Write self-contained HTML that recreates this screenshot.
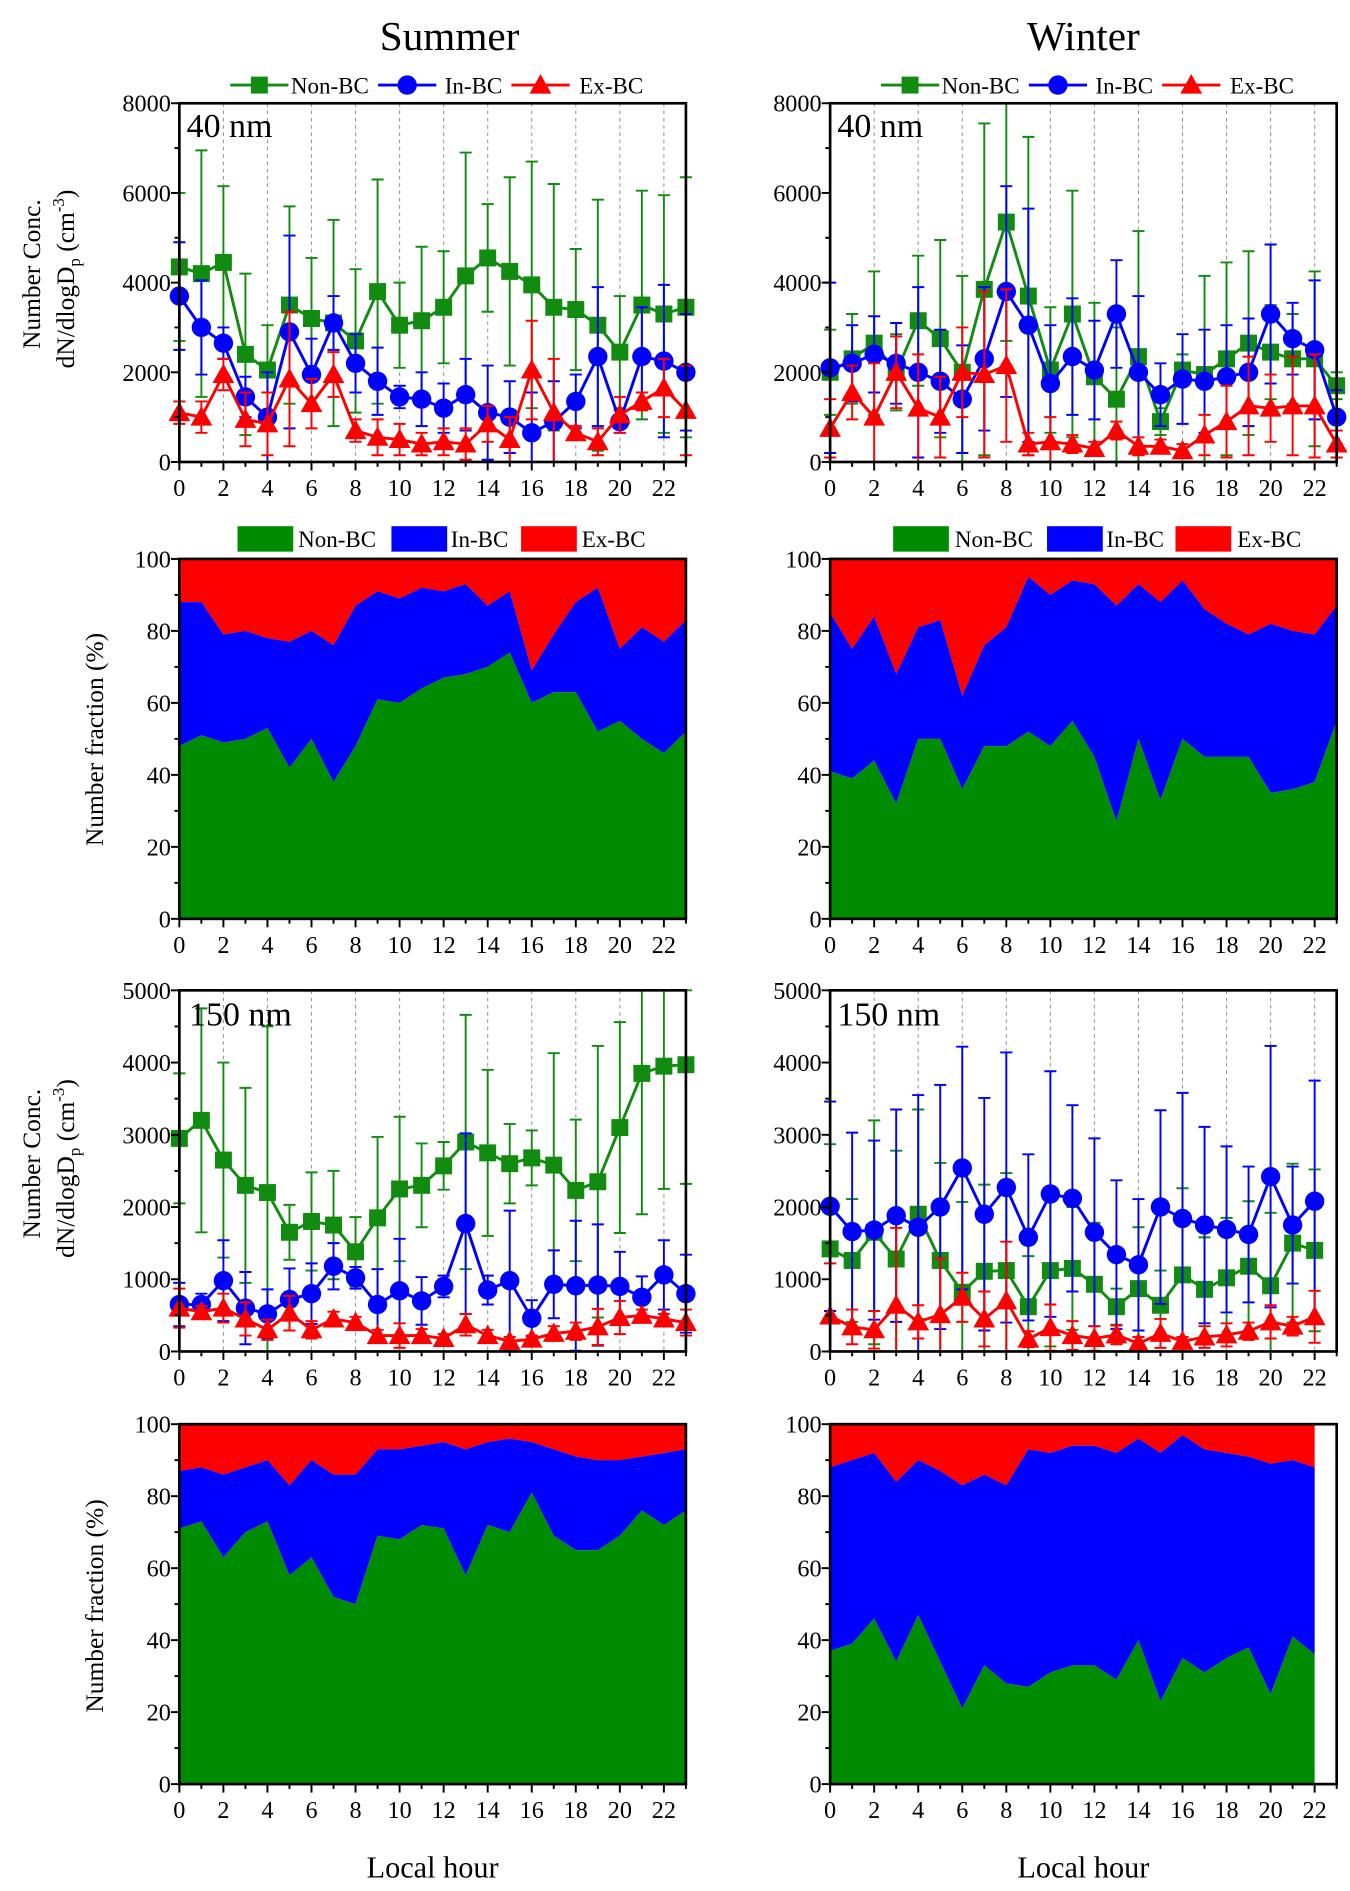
<!DOCTYPE html>
<html><head><meta charset="utf-8">
<style>
html,body{margin:0;padding:0;background:#fff;}
svg{display:block;}
svg text{font-family:"Liberation Serif","Times New Roman",serif;}
</style></head>
<body>
<svg id="fig" width="1350" height="1891" viewBox="0 0 1114 1560" xmlns="http://www.w3.org/2000/svg" font-family="Liberation Serif, serif">
<text x="371" y="41" font-size="34" text-anchor="middle">Summer</text>
<text x="894" y="41" font-size="34" text-anchor="middle">Winter</text>
<g>
<text transform="translate(33,226) rotate(-90)" font-size="21" text-anchor="middle">Number Conc.</text>
<text transform="translate(61,230) rotate(-90)" font-size="21" text-anchor="middle">dN/dlogD<tspan font-size="14" dy="5">p</tspan><tspan dy="-5"> (cm</tspan><tspan font-size="14" dy="-8">-3</tspan><tspan dy="8">)</tspan></text>
</g>
<g>
<text transform="translate(33,960) rotate(-90)" font-size="21" text-anchor="middle">Number Conc.</text>
<text transform="translate(61,964) rotate(-90)" font-size="21" text-anchor="middle">dN/dlogD<tspan font-size="14" dy="5">p</tspan><tspan dy="-5"> (cm</tspan><tspan font-size="14" dy="-8">-3</tspan><tspan dy="8">)</tspan></text>
</g>
<text transform="translate(85,610) rotate(-90)" font-size="21" text-anchor="middle">Number fraction (%)</text>
<text transform="translate(85,1325) rotate(-90)" font-size="21" text-anchor="middle">Number fraction (%)</text>
<text x="357" y="1549" font-size="25" text-anchor="middle">Local hour</text>
<text x="894" y="1549" font-size="25" text-anchor="middle">Local hour</text>
</svg>
<script>
// ---- data ----
const hours = [0,1,2,3,4,5,6,7,8,9,10,11,12,13,14,15,16,17,18,19,20,21,22,23];
const seriesNames = ["Non-BC","In-BC","Ex-BC"];
const conc40YTicks = [0,2000,4000,6000,8000];
const conc150YTicks = [0,1000,2000,3000,4000,5000];
const fracYTicks = [0,20,40,60,80,100];
const xTickLabels = [0,2,4,6,8,10,12,14,16,18,20,22];

const sum40Non = [4350,4200,4450,2400,2050,3500,3200,3100,2700,3800,3050,3150,3450,4150,4550,4250,3950,3450,3400,3050,2450,3500,3300,3450];
const sum40NonErr = [1650,2750,1700,1800,1000,2200,1350,2300,1600,2500,950,1650,1250,2750,1200,2100,2750,2750,1350,2800,1250,2550,2650,2900];
const sum40In = [3700,3000,2650,1450,1000,2900,1950,3100,2200,1800,1450,1400,1200,1500,1100,1000,650,900,1350,2350,900,2350,2250,2000];
const sum40InErr = [1200,1050,350,450,1000,2150,800,600,650,750,250,600,550,800,1050,800,900,900,600,1550,250,1100,1700,1300];
const sum40Ex = [1100,1000,1950,950,850,1850,1300,1950,700,550,500,400,450,400,850,500,2050,1100,650,450,1050,1350,1650,1150];
const sum40ExErr = [250,350,350,600,700,1500,550,500,250,400,350,250,300,350,400,500,1100,1200,150,300,400,200,650,1000];

const win40Non = [2000,2300,2650,2000,3150,2750,2000,3850,5350,3700,2050,3300,1900,1400,2350,900,2050,1950,2300,2650,2450,2300,2300,1700];
const win40NonErr = [950,1000,1600,850,1450,2200,2150,3700,2650,3550,1400,2750,1650,1600,2800,300,350,2200,2150,2050,1050,1000,1950,300];
const win40In = [2100,2200,2400,2200,2000,1800,1400,2300,3800,3050,1750,2350,2050,3300,2000,1500,1850,1800,1900,2000,3300,2750,2500,1000];
const win40InErr = [1900,850,850,900,1900,1150,1200,1600,2350,2600,1300,1300,1100,1200,1700,700,1000,1150,1150,1200,1550,800,1550,600];
const win40Ex = [750,1550,1000,2000,1200,1000,2000,1950,2150,400,450,400,300,700,350,350,250,600,900,1250,1200,1250,1250,400];
const win40ExErr = [650,600,1200,800,1200,900,1000,1850,1700,250,550,200,150,200,200,150,150,450,800,1100,750,1100,1150,300];

const sumFrac40Non = [48,51,49,50,53,42,50,38,48,61,60,64,67,68,70,74,60,63,63,52,55,50,46,52];
const sumFrac40In = [40,37,30,30,25,35,30,38,39,30,29,28,24,25,17,17,9,16,25,40,20,31,31,31];
const winFrac40Non = [41,39,44,32,50,50,36,48,48,52,48,55,45,27,50,33,50,45,45,45,35,36,38,55];
const winFrac40In = [44,36,40,36,31,33,26,28,33,43,42,39,48,60,43,55,44,41,37,34,47,44,41,32];

const sum150Non = [2950,3200,2650,2300,2200,1650,1800,1750,1380,1850,2250,2300,2570,2900,2750,2600,2680,2580,2230,2350,3100,3850,3950,3970];
const sum150NonErr = [900,1550,1350,1350,2300,380,680,750,480,1120,1000,580,330,1760,1150,550,380,1550,980,1880,1460,1950,1700,1650];
const sum150In = [650,650,980,600,520,720,800,1180,1020,650,840,700,900,1770,850,980,460,930,910,920,900,750,1060,800];
const sum150InErr = [300,150,560,500,340,430,420,320,150,490,720,330,150,1250,200,970,250,470,900,840,480,290,480,540];
const sum150Ex = [600,550,600,450,300,530,300,450,400,220,220,220,180,370,220,140,170,250,280,340,470,500,450,400];
const sum150ExErr = [270,80,200,230,140,240,120,100,80,80,170,90,60,150,80,60,50,100,120,250,230,80,70,180];

const win150Non = [1420,1260,1650,1280,1900,1260,820,1110,1120,620,1120,1150,930,620,870,640,1060,860,1020,1180,910,1500,1400];
const win150NonErr = [1450,850,1550,1500,1450,1350,1250,1200,1350,700,1050,850,850,250,850,480,1200,720,830,900,1010,1100,1120];
const win150In = [2010,1660,1680,1880,1720,2000,2540,1900,2270,1580,2180,2120,1650,1340,1200,2000,1840,1750,1690,1620,2420,1750,2080];
const win150InErr = [1450,1370,1240,1470,1830,1690,1680,1610,1870,1150,1700,1290,1300,1030,910,1340,1740,1360,1150,940,1810,810,1670];
const win150Ex = [490,340,300,640,410,510,750,450,700,170,330,220,180,230,110,250,140,200,230,280,410,350,480];
const win150ExErr = [730,240,260,1070,230,780,340,380,820,110,320,200,170,130,90,200,60,150,160,120,230,130,360];

const sumFrac150Non = [71,73,63,70,73,58,63,52,50,69,68,72,71,58,72,70,81,69,65,65,69,76,72,76];
const sumFrac150In = [16,15,23,18,17,25,27,34,36,24,25,22,24,35,23,26,14,24,26,25,21,15,20,17];
const winFrac150Non = [37,39,46,34,47,34,21,33,28,27,31,33,33,29,40,23,35,31,35,38,25,41,36];
const winFrac150In = [51,51,46,50,43,53,62,53,55,66,61,61,61,63,56,69,62,62,57,53,64,49,52];

// ---- drawing ----
const NS = "http://www.w3.org/2000/svg";
const svg = document.getElementById("fig");
const GREEN = "#118c11", BLUE = "#0000ff", RED = "#ff0000", GFILL = "#008c00";
function mk(tag, attrs, parent){ const e=document.createElementNS(NS,tag); for(const k in attrs) e.setAttribute(k,attrs[k]); (parent||svg).appendChild(e); return e; }

function makeAxes(x0, y0, x1, y1, ymax, ticks, minorStep, grid, name){
  const g = mk("g",{});
  
  
  const xs = h => x0 + (x1 - x0) * h / 23;
  const ys = v => y1 - (y1 - y0) * v / ymax;
  if(grid){ for(let h=2; h<=22; h+=2) mk("line",{x1:xs(h),x2:xs(h),y1:y0,y2:y1,stroke:"#999","stroke-width":0.9,"stroke-dasharray":"3,3"},g); }
  return {g, xs, ys, x0, y0, x1, y1, ymax, ticks, minorStep};
}
function finishAxes(ax, name){
  const {g,xs,ys,x0,y0,x1,y1,ymax,ticks,minorStep} = ax;
  const fr = mk("rect",{x:x0,y:y0,width:x1-x0,height:y1-y0,fill:"none",stroke:"#000","stroke-width":2.2},g);
  
  
  for(let h=0; h<=23; h++){
    const major = h%2===0;
    mk("line",{x1:xs(h),x2:xs(h),y1:y1,y2:y1+(major?7:4),stroke:"#000","stroke-width":1.6},g);
  }
  for(const h of xTickLabels){
    const t = mk("text",{x:xs(h),y:y1+28,"font-size":20,"text-anchor":"middle"},g);
    t.textContent = h;
    
    
  }
  for(let v=0; v<=ymax+1e-6; v+=minorStep){
    const major = ticks.some(t=>Math.abs(t-v)<1e-6);
    mk("line",{x1:x0,x2:x0-(major?7:4),y1:ys(v),y2:ys(v),stroke:"#000","stroke-width":1.6},g);
  }
  for(const v of ticks){
    const t = mk("text",{x:x0-7,y:ys(v)+7,"font-size":20,"text-anchor":"end"},g);
    t.textContent = v;
    
    
  }
}
function marker(g, kind, x, y, color){
  if(kind==="sq") return mk("rect",{x:x-7,y:y-7,width:14,height:14,fill:color},g);
  if(kind==="ci") return mk("circle",{cx:x,cy:y,r:8,fill:color},g);
  return mk("polygon",{points:`${x},${y-9} ${x-9},${y+7} ${x+9},${y+7}`,fill:color},g);
}
function lineSeries(ax, vals, errs, color, kind, name){
  const g = mk("g",{},ax.g);
  
  
  const clipTop = ax.y0, clipBot = ax.y1;
  const cl = v => Math.max(clipTop, Math.min(clipBot, v));
  vals.forEach((v,i)=>{
    const x = ax.xs(hours[i]);
    const yt = cl(ax.ys(v+errs[i])), yb = cl(ax.ys(v-errs[i]));
    const eb = mk("path",{d:`M${x},${yt}V${yb}M${x-5},${yt}H${x+5}M${x-5},${yb}H${x+5}`,stroke:color,"stroke-width":1.6,fill:"none"},g);
    
    
  });
  const pts = vals.map((v,i)=>`${ax.xs(hours[i])},${ax.ys(v)}`).join(" ");
  mk("polyline",{points:pts,fill:"none",stroke:color,"stroke-width":2.4},g);
  vals.forEach((v,i)=>{
    const m = marker(g, kind, ax.xs(hours[i]), ax.ys(v), color);
    
    
  });
}
function areaSeries(ax, non, inn, name){
  const g = mk("g",{},ax.g);
  
  
  const n = non.length;
  const xs = i => ax.xs(hours[i]);
  const top = non.map((v,i)=>v+inn[i]);
  const red = mk("path",{d:`M${xs(0)},${ax.ys(100)}`+non.map((v,i)=>`L${xs(i)},${ax.ys(100)}`).join("")+top.slice().reverse().map((v,j)=>`L${xs(n-1-j)},${ax.ys(v)}`).join("")+"Z",fill:RED},g);
  
  
  const blue = mk("path",{d:top.map((v,i)=>`${i?'L':'M'}${xs(i)},${ax.ys(v)}`).join("")+non.slice().reverse().map((v,j)=>`L${xs(n-1-j)},${ax.ys(v)}`).join("")+"Z",fill:BLUE},g);
  
  
  const green = mk("path",{d:non.map((v,i)=>`${i?'L':'M'}${xs(i)},${ax.ys(v)}`).join("")+`L${xs(n-1)},${ax.ys(0)}L${xs(0)},${ax.ys(0)}Z`,fill:GFILL},g);
  
  
}
function lineLegend(dx, y, name){
  const g = mk("g",{});
  
  
  const items = [[190,GREEN,"sq",240],[312,BLUE,"ci",367],[422,RED,"tr",478]];
  items.forEach((it,k)=>{
    const e = mk("g",{},g);
    
    
    mk("line",{x1:it[0]+dx,x2:it[0]+dx+48,y1:y,y2:y,stroke:it[1],"stroke-width":2.4},e);
    marker(e,it[2],it[0]+dx+24,y,it[1]);
    const t = mk("text",{x:it[3]+dx,y:y+7,"font-size":19},e);
    t.textContent = seriesNames[k];
  });
}
function areaLegend(positions, y, name){
  const g = mk("g",{});
  
  
  const cols=[GFILL,BLUE,RED];
  positions.forEach((p,k)=>{
    const e = mk("g",{},g);
    
    
    mk("rect",{x:p[0],y:y-10,width:46,height:21,fill:cols[k]},e);
    const t = mk("text",{x:p[1],y:y+7,"font-size":19},e);
    t.textContent = seriesNames[k];
  });
}
function label(x,y,txt,name){ const t=mk("text",{x:x,y:y,"font-size":28}); t.textContent=txt;   }

// Row 1: 40 nm conc
let a = makeAxes(148,85,566,381,8000,conc40YTicks,1000,true,"summer-40nm-conc-chart");
lineSeries(a,sum40Non,sum40NonErr,GREEN,"sq","summer-40-non-bc");
lineSeries(a,sum40In,sum40InErr,BLUE,"ci","summer-40-in-bc");
lineSeries(a,sum40Ex,sum40ExErr,RED,"tr","summer-40-ex-bc");
finishAxes(a,"summer-40nm-conc");
label(154,113,"40 nm","summer-40nm-label");
lineLegend(0,70,"summer-40-legend");

a = makeAxes(685,85,1103,381,8000,conc40YTicks,1000,true,"winter-40nm-conc-chart");
lineSeries(a,win40Non,win40NonErr,GREEN,"sq","winter-40-non-bc");
lineSeries(a,win40In,win40InErr,BLUE,"ci","winter-40-in-bc");
lineSeries(a,win40Ex,win40ExErr,RED,"tr","winter-40-ex-bc");
finishAxes(a,"winter-40nm-conc");
label(691,113,"40 nm","winter-40nm-label");
lineLegend(537,70,"winter-40-legend");

// Row 2: 40 nm fraction
a = makeAxes(148,461,566,758,100,fracYTicks,10,false,"summer-40nm-fraction-chart");
areaSeries(a,sumFrac40Non,sumFrac40In,"summer-40-fraction");
finishAxes(a,"summer-40nm-fraction");
areaLegend([[196,246],[323,372],[430,480]],444,"summer-40-fraction-legend");

a = makeAxes(685,461,1103,758,100,fracYTicks,10,false,"winter-40nm-fraction-chart");
areaSeries(a,winFrac40Non,winFrac40In,"winter-40-fraction");
finishAxes(a,"winter-40nm-fraction");
areaLegend([[737,788],[864,913],[970,1021]],444,"winter-40-fraction-legend");

// Row 3: 150 nm conc
a = makeAxes(148,817,566,1115,5000,conc150YTicks,500,true,"summer-150nm-conc-chart");
lineSeries(a,sum150Non,sum150NonErr,GREEN,"sq","summer-150-non-bc");
lineSeries(a,sum150In,sum150InErr,BLUE,"ci","summer-150-in-bc");
lineSeries(a,sum150Ex,sum150ExErr,RED,"tr","summer-150-ex-bc");
finishAxes(a,"summer-150nm-conc");
label(156,846,"150 nm","summer-150nm-label");

a = makeAxes(685,817,1103,1115,5000,conc150YTicks,500,true,"winter-150nm-conc-chart");
lineSeries(a,win150Non,win150NonErr,GREEN,"sq","winter-150-non-bc");
lineSeries(a,win150In,win150InErr,BLUE,"ci","winter-150-in-bc");
lineSeries(a,win150Ex,win150ExErr,RED,"tr","winter-150-ex-bc");
finishAxes(a,"winter-150nm-conc");
label(691,846,"150 nm","winter-150nm-label");

// Row 4: 150 nm fraction
a = makeAxes(148,1175,566,1472,100,fracYTicks,10,false,"summer-150nm-fraction-chart");
areaSeries(a,sumFrac150Non,sumFrac150In,"summer-150-fraction");
finishAxes(a,"summer-150nm-fraction");

a = makeAxes(685,1175,1103,1472,100,fracYTicks,10,false,"winter-150nm-fraction-chart");
areaSeries(a,winFrac150Non,winFrac150In,"winter-150-fraction");
finishAxes(a,"winter-150nm-fraction");
</script>
</body></html>
